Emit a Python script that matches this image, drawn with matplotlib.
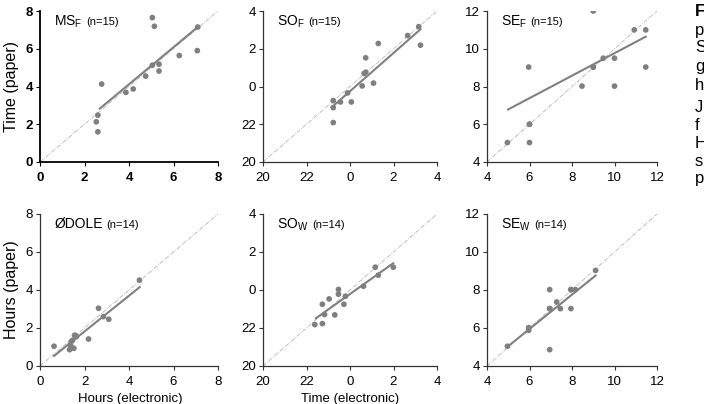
import numpy as np
import matplotlib.pyplot as plt

plt.rcParams['font.family'] = ['Liberation Sans', 'DejaVu Sans']
plt.rcParams['mathtext.fontset'] = 'custom'
plt.rcParams['mathtext.rm'] = 'Liberation Sans'

# panel names, subscripts and sample sizes
names = ["MS", "SO", "SE", "ØDOLE", "SO", "SE"]
subs = ["F", "F", "F", "", "W", "W"]
ns = [15, 15, 15, 14, 14, 14]

# axis ranges and tick labels
lims = [(0, 8), (-4, 4), (4, 12), (0, 8), (-4, 4), (4, 12)]
tick_vals = [[0, 2, 4, 6, 8], [-4, -2, 0, 2, 4], [4, 6, 8, 10, 12]] * 2
tick_labels = [["0", "2", "4", "6", "8"], ["20", "22", "0", "2", "4"],
               ["4", "6", "8", "10", "12"]] * 2

# points: electronic (x) vs paper (y)
msf_x = [5.05, 5.14, 7.09, 7.07, 6.26, 5.05, 5.35, 5.35, 4.75, 2.77, 3.86, 4.19, 2.6, 2.53, 2.6]
msf_y = [7.65, 7.19, 7.15, 5.9, 5.64, 5.13, 5.18, 4.82, 4.55, 4.13, 3.69, 3.87, 2.48, 2.13, 1.6]
sof_x = [3.16, 2.65, 3.24, 1.30, 0.72, 0.65, 0.73, 0.56, 1.08, -0.11, -0.44, 0.06, -0.77, -0.77, -0.77]
sof_y = [3.17, 2.70, 2.19, 2.28, 1.52, 0.69, 0.76, 0.03, 0.18, -0.34, -0.82, -0.82, -0.75, -1.12, -1.91]
sef_x = [9.0, 10.93, 11.47, 11.47, 9.47, 10.0, 9.0, 5.96, 8.47, 10.0, 6.0, 6.0, 4.96, 9.0, 6.0]
sef_y = [12.0, 11.0, 11.0, 9.03, 9.5, 9.5, 9.03, 9.03, 8.02, 8.02, 6.0, 5.03, 5.03, 9.03, 6.0]
dole_x = [4.47, 2.63, 2.85, 3.09, 2.18, 1.55, 1.64, 0.63, 1.4, 1.38, 1.33, 1.52, 1.46, 1.6]
dole_y = [4.52, 3.04, 2.6, 2.46, 1.42, 1.62, 1.55, 1.04, 1.28, 1.07, 0.86, 0.93, 1.35, 1.6]
sow_x = [1.16, 1.99, 1.30, 0.62, -0.53, -0.53, -0.21, -0.96, -0.28, -1.27, -0.70, -1.17, -1.62, -1.27]
sow_y = [1.20, 1.20, 0.78, 0.20, 0.03, -0.22, -0.33, -0.47, -0.75, -0.75, -1.31, -1.29, -1.82, -1.77]
sew_x = [9.11, 7.95, 8.16, 6.95, 7.28, 6.95, 7.45, 7.95, 5.96, 5.96, 4.96, 6.95, 7.95, 6.95]
sew_y = [9.03, 8.02, 8.02, 8.02, 7.37, 7.02, 7.02, 7.02, 6.02, 5.88, 5.04, 4.86, 8.02, 7.02]
xs = [msf_x, sof_x, sef_x, dole_x, sow_x, sew_x]
ys = [msf_y, sof_y, sef_y, dole_y, sow_y, sew_y]

# fitted regression lines (x start, x end, y start, y end)
fit_x0 = [2.69, -0.84, 4.99, 0.63, -1.57, 5.05]
fit_x1 = [7.13, 3.24, 11.47, 4.48, 1.99, 9.11]
fit_y0 = [2.83, -1.10, 6.78, 0.53, -1.49, 5.09]
fit_y1 = [7.19, 3.03, 10.64, 4.15, 1.41, 8.76]

# caption fragment cut off on the right
side_letters = ["F", "p", "S", "g", "h", "J", "f", "H", "s", "p"]
side_y = [12, 30, 48, 67, 86, 107, 125, 143, 161, 179]

fig = plt.figure(figsize=(7.04, 4.04), dpi=100)
W, H = 704, 404
lefts = [40, 263, 487]
rights = [218, 437, 657]
tops = [11, 214]
bottoms = [162, 366]

dot = "#7f7f7f"
for i in range(6):
    r, c = divmod(i, 3)
    ax = fig.add_axes([lefts[c] / W, 1 - bottoms[r] / H,
                       (rights[c] - lefts[c]) / W, (bottoms[r] - tops[r]) / H])
    lo, hi = lims[i]
    ax.plot([lo, hi], [lo, hi], color="#b4b4b4", lw=0.6, ls=(0, (5, 1.5, 1, 1.5)), zorder=1)
    ax.plot([fit_x0[i], fit_x1[i]], [fit_y0[i], fit_y1[i]], color="#808080", lw=1.5, zorder=2)
    ax.scatter(xs[i], ys[i], s=17, color=dot, edgecolors="none", zorder=3)
    ax.set_xlim(lo, hi)
    ax.set_ylim(lo, hi)
    ax.set_xticks(tick_vals[i])
    ax.set_xticklabels(tick_labels[i])
    ax.set_yticks(tick_vals[i])
    ax.set_yticklabels(tick_labels[i])
    for s in ["top", "right"]:
        ax.spines[s].set_visible(False)
    spc = "black" if i == 0 else "#333333"
    for s in ["left", "bottom"]:
        ax.spines[s].set_color(spc)
        ax.spines[s].set_linewidth(1.3 if i == 0 else 0.9)
        ax.spines[s].set_clip_on(False)
    ax.tick_params(direction="out", length=3, width=0.8, color=spc, labelsize=9.5)
    ax.tick_params(axis="x", pad=4)
    ax.tick_params(axis="y", pad=2)
    if i == 0:
        for t in ax.get_xticklabels() + ax.get_yticklabels():
            t.set_fontweight("bold")
    ax.patch.set_alpha(0)
    label = names[i] + (r"$_\mathregular{%s}$" % subs[i] if subs[i] else "")
    tx = ax.text(0.08, 0.905, label, transform=ax.transAxes, fontsize=10, va="baseline", ha="left")
    fig.canvas.draw()
    bb = tx.get_window_extent().transformed(ax.transAxes.inverted())
    ax.text(bb.x1 + 0.02, 0.905, "(n=%d)" % ns[i], transform=ax.transAxes,
            fontsize=8, va="baseline", ha="left")

fig.text(12 / W, 1 - 86 / H, "Time (paper)", rotation=90, fontsize=11.5, ha="center", va="center")
fig.text(12 / W, 1 - 290 / H, "Hours (paper)", rotation=90, fontsize=11.5, ha="center", va="center")
fig.text(130 / W, 1 - 393 / H, "Hours (electronic)", fontsize=9.5, ha="center", va="top")
fig.text(350 / W, 1 - 393 / H, "Time (electronic)", fontsize=9.5, ha="center", va="top")

for k, (ch, yy) in enumerate(zip(side_letters, side_y)):
    fig.text(695 / W, 1 - yy / H, ch, fontsize=12, ha="left", va="center",
             fontweight="bold" if k == 0 else "normal")

fig.savefig("out.png", dpi=100)
